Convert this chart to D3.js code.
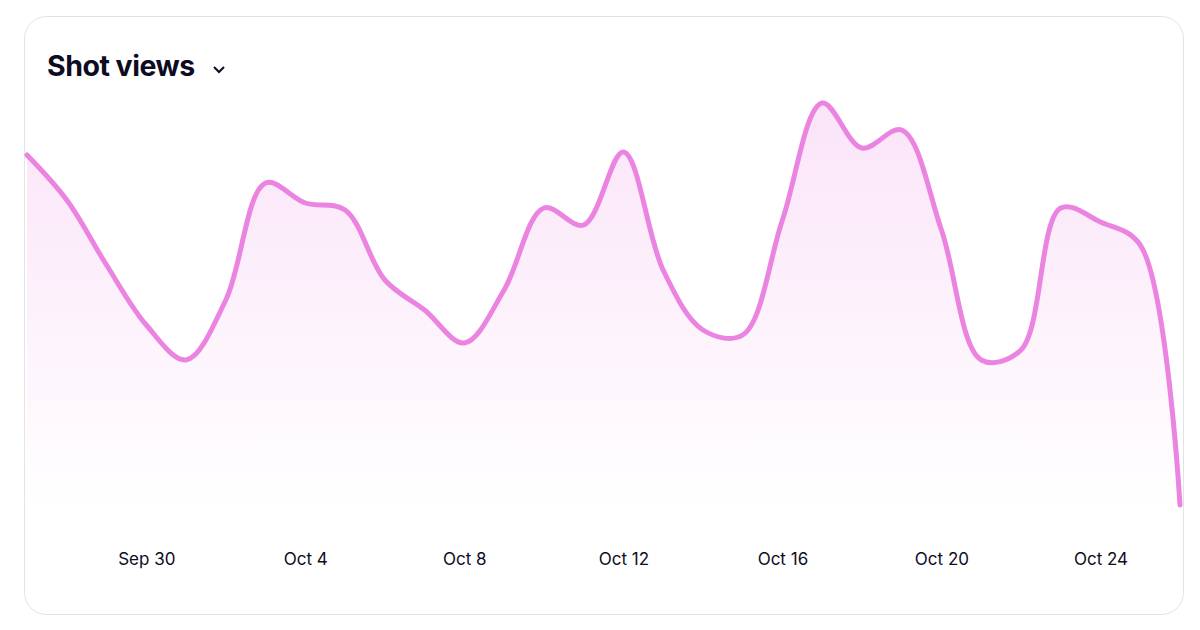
<!DOCTYPE html>
<html><head><meta charset="utf-8">
<script src="https://cdn.jsdelivr.net/npm/d3@7"></script>
<style>body{margin:0;background:#fff;font-family:Inter,"Noto Sans",sans-serif}</style>
</head><body>
<svg id="c" width="1200" height="630"></svg>
<script>
const dates = ["2024-09-27","2024-09-28","2024-09-29","2024-09-30","2024-10-01","2024-10-02","2024-10-03","2024-10-04","2024-10-05","2024-10-06","2024-10-07","2024-10-08","2024-10-09","2024-10-10","2024-10-11","2024-10-12","2024-10-13","2024-10-14","2024-10-15","2024-10-16","2024-10-17","2024-10-18","2024-10-19","2024-10-20","2024-10-21","2024-10-22","2024-10-23","2024-10-24","2024-10-25","2024-10-26"];
const views = [355,310,245,185,150,210,327,307,300,230,200,167,220,302,285,358,240,180,175,290,407,362,380,280,150,160,302,288,265,5];
const tickDates = ["2024-09-30","2024-10-04","2024-10-08","2024-10-12","2024-10-16","2024-10-20","2024-10-24"];
const parse = d3.utcParse("%Y-%m-%d");
const data = dates.map((d,i)=>({d:parse(d),v:views[i]}));
const svg = d3.select("#c");
svg.append("rect").attr("x",24.5).attr("y",16.5).attr("width",1159).attr("height",598).attr("rx",22)
  .attr("fill","#fff").attr("stroke","#e3e3e6");
svg.append("text").attr("x",47).attr("y",76).text("Shot views").attr("font-size",28.5).attr("font-weight",700)
  .attr("fill","#0d0c22").attr("letter-spacing",-0.5);
svg.append("path").attr("d","M214 67 L219 72 L224 67").attr("fill","none").attr("stroke","#0d0c22").attr("stroke-width",2);
const x = d3.scaleUtc().domain(d3.extent(data,d=>d.d)).range([27,1180]);
const y = d3.scaleLinear().domain([0,450]).range([510,60]);
const defs = svg.append("defs");
const g = defs.append("linearGradient").attr("id","gr").attr("x1",0).attr("y1",0).attr("x2",0).attr("y2",1);
g.append("stop").attr("offset","0%").attr("stop-color","#ea84e0").attr("stop-opacity",0.22);
g.append("stop").attr("offset","100%").attr("stop-color","#ea84e0").attr("stop-opacity",0.0);
const curve = d3.curveCatmullRom.alpha(0.5);
svg.append("path").datum(data).attr("fill","url(#gr)")
  .attr("d",d3.area().x(d=>x(d.d)).y0(y(0)).y1(d=>y(d.v)).curve(curve));
svg.append("path").datum(data).attr("fill","none").attr("stroke","#ea84e0").attr("stroke-width",5)
  .attr("stroke-linejoin","round").attr("stroke-linecap","round")
  .attr("d",d3.line().x(d=>x(d.d)).y(d=>y(d.v)).curve(curve));
const ax = svg.append("g").attr("transform","translate(0,550)")
  .call(d3.axisBottom(x).tickValues(tickDates.map(parse)).tickFormat(d3.utcFormat("%b %-d")).tickSize(0));
ax.select(".domain").remove();
ax.selectAll("text").attr("font-size",17).attr("fill","#0d0c22").attr("font-family","Inter,sans-serif");
</script>
</body></html>
